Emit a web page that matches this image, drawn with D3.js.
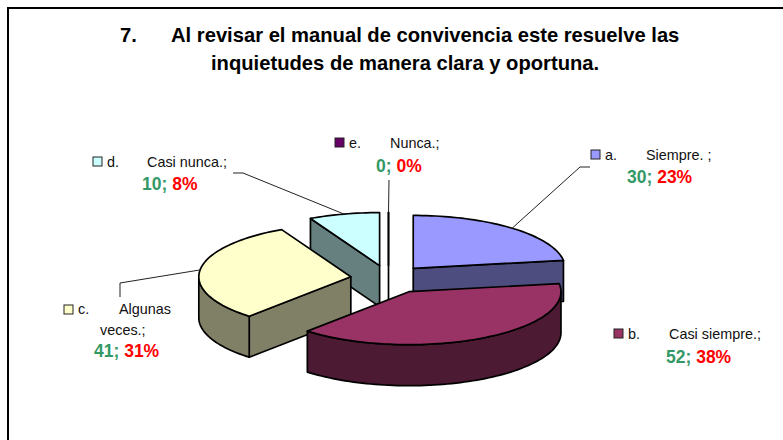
<!DOCTYPE html>
<html>
<head>
<meta charset="utf-8">
<script src="https://cdn.jsdelivr.net/npm/d3@7"></script>
<style>
  html, body { margin: 0; padding: 0; background: #fff; overflow: hidden; }
  text { font-family: "Liberation Sans", Arial, sans-serif; }
  .name { font-size: 14.4px; fill: #111; }
  .val { font-size: 17.5px; font-weight: bold; }
  .title { font-size: 20.2px; font-weight: bold; fill: #000; }
</style>
</head>
<body>
<svg id="chart"></svg>
<script>
// chart values
var letters = ["a.", "b.", "c.", "d.", "e."];
var names = ["Siempre. ;", "Casi siempre.;", "Algunas", "Casi nunca.;", "Nunca.;"];
var values = [30, 52, 41, 10, 0];
var percents = ["23%", "38%", "31%", "8%", "0%"];
var titleLines = ["Al revisar el manual de convivencia este resuelve las", "inquietudes de manera clara y oportuna."];

// colours: top of the slice, then its darker wall
var topColors = ["#9999ff", "#993366", "#ffffcc", "#ccffff", "#660066"];
var wallColors = ["#4d4d80", "#4d1a33", "#808066", "#668080", "#330033"];

var svgWidth = 783;
var svgHeight = 440;

// pie geometry
var centerX = 388.5;
var centerY = 278.5;
var radiusX = 152;
var radiusY = 53;
var depth = 41;
var explode = [38, 43, 38, 38, 38];
var drawOrder = [3, 4, 0, 2, 1];

// label layout, same order as the categories
var labelLayout = [
  { key: [591, 150], letter: 605, name: 646, nameY: 160, valX: 627, valY: 183, leader: [[590, 167], [580, 167]] },
  { key: [614, 329], letter: 628, name: 669, nameY: 339, valX: 666, valY: 363, leader: null },
  { key: [64, 305], letter: 78, name: 119, nameY: 314, valX: 94, valY: 357, leader: [[120, 297], [120, 283]] },
  { key: [93, 157], letter: 107, name: 147, nameY: 167, valX: 142, valY: 190, leader: [[233, 173], [243, 173]] },
  { key: [335, 138], letter: 349, name: 390, nameY: 148, valX: 376, valY: 172, leader: [[389, 180]] }
];

var svg = d3.select("#chart")
  .attr("width", svgWidth)
  .attr("height", svgHeight)
  .style("display", "block");

// outer frame runs off the right and bottom of the picture
svg.append("rect")
  .attr("x", 8)
  .attr("y", 8)
  .attr("width", svgWidth)
  .attr("height", svgHeight)
  .attr("fill", "#fff")
  .attr("stroke", "#000")
  .attr("stroke-width", 2);

/********************************************/
var titleGroup = svg.append("g");

titleGroup.append("text").attr("class", "title").attr("x", 120).attr("y", 42).text("7.");
titleGroup.append("text").attr("class", "title").attr("x", 171).attr("y", 42).text(titleLines[0]);
titleGroup.append("text").attr("class", "title").attr("x", 211).attr("y", 70).text(titleLines[1]);

/********************************************/
var pie = d3.pie().sort(null).value(d => d);
var slices = pie(values);

var lineGen = d3.line();

function rim(c, angle) {
  return [c[0] + radiusX * Math.sin(angle), c[1] - radiusY * Math.cos(angle)];
}

function down(p) {
  return [p[0], p[1] + depth];
}

function sliceCenter(i) {
  var mid = (slices[i].startAngle + slices[i].endAngle) / 2;
  return [
    centerX + explode[i] * Math.sin(mid),
    centerY - explode[i] * Math.cos(mid) * radiusY / radiusX
  ];
}

function arcPoints(c, a0, a1) {
  var n = Math.max(1, Math.ceil(Math.abs(a1 - a0) / 0.03));
  return d3.range(n + 1).map(k => rim(c, a0 + (a1 - a0) * k / n));
}

var pieGroup = svg.append("g")
  .attr("stroke", "#000")
  .attr("stroke-width", 1.7)
  .attr("stroke-linejoin", "round");

drawOrder.forEach(function (i) {
  var s = slices[i];
  var c = sliceCenter(i);
  var wall = wallColors[i];

  // flat cut faces, only the ones turned towards the viewer
  if (Math.sin(s.startAngle) < 0) {
    drawFace([c, rim(c, s.startAngle), down(rim(c, s.startAngle)), down(c)], wall);
  }
  if (Math.sin(s.endAngle) > 0) {
    drawFace([c, rim(c, s.endAngle), down(rim(c, s.endAngle)), down(c)], wall);
  }

  // curved wall between 90 and 270 degrees
  var a0 = Math.max(s.startAngle, Math.PI / 2);
  var a1 = Math.min(s.endAngle, Math.PI * 1.5);
  if (a1 > a0) {
    var front = arcPoints(c, a0, a1);
    drawFace(front.concat(front.map(down).reverse()), wall);
  }

  drawFace([c].concat(arcPoints(c, s.startAngle, s.endAngle)), topColors[i]);
});

function drawFace(points, fill) {
  pieGroup.append("path")
    .attr("d", lineGen(points) + "Z")
    .attr("fill", fill);
}

/********************************************/
var labelGroup = svg.append("g");

labelLayout.forEach(function (d, i) {
  var s = slices[i];

  if (d.leader) {
    var end = rim(sliceCenter(i), (s.startAngle + s.endAngle) / 2);
    labelGroup.append("path")
      .attr("d", lineGen(d.leader.concat([end])))
      .attr("fill", "none")
      .attr("stroke", "#222")
      .attr("stroke-width", 1);
  }

  labelGroup.append("rect")
    .attr("x", d.key[0])
    .attr("y", d.key[1])
    .attr("width", 9)
    .attr("height", 9)
    .attr("fill", topColors[i])
    .attr("stroke", "#222")
    .attr("stroke-width", 1);

  labelGroup.append("text").attr("class", "name").attr("x", d.letter).attr("y", d.nameY).text(letters[i]);
  labelGroup.append("text").attr("class", "name").attr("x", d.name).attr("y", d.nameY).text(names[i]);

  var val = labelGroup.append("text").attr("class", "val").attr("x", d.valX).attr("y", d.valY);
  val.append("tspan").attr("fill", "#339966").text(values[i] + "; ");
  val.append("tspan").attr("fill", "#ff0000").text(percents[i]);
});

// second line of the c. label
labelGroup.append("text").attr("class", "name").attr("x", 100).attr("y", 335).text("veces.;");
</script>
</body>
</html>
